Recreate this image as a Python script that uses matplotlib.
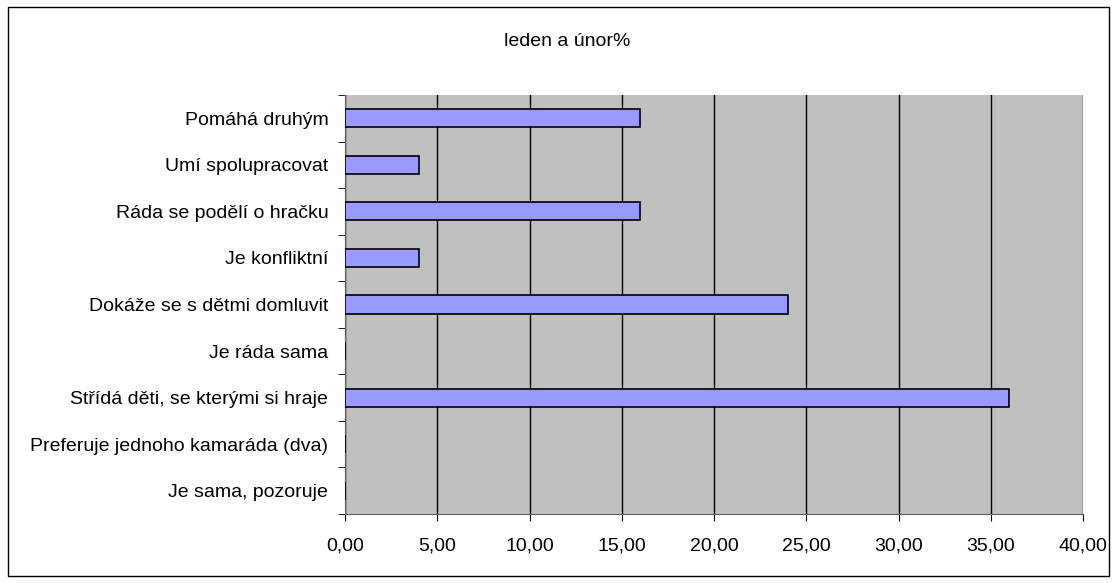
import matplotlib.pyplot as plt
from matplotlib.patches import Rectangle
from matplotlib.ticker import FixedLocator

plt.rcParams['font.family'] = ['Liberation Sans', 'DejaVu Sans']

# Data (top to bottom as shown)
categories = ['Pomáhá druhým', 'Umí spolupracovat', 'Ráda se podělí o hračku',
              'Je konfliktní', 'Dokáže se s dětmi domluvit', 'Je ráda sama',
              'Střídá děti, se kterými si hraje', 'Preferuje jednoho kamaráda (dva)',
              'Je sama, pozoruje']
values = [16, 4, 16, 4, 24, 0, 36, 0, 0]
xticks = [0, 5, 10, 15, 20, 25, 30, 35, 40]

fig = plt.figure(figsize=(11.17, 5.83), dpi=100)
ax = fig.add_axes([0.3089, 0.1184, 0.6607, 0.7187])

n = len(categories)
ypos = list(range(n - 1, -1, -1))
ax.barh(ypos, values, height=0.39, color='#9999ff', edgecolor='black', linewidth=1.2, zorder=3)

ax.set_facecolor('#c0c0c0')
ax.set_xlim(0, 40)
ax.set_ylim(-0.5, n - 0.5)
ax.set_xticks(xticks)
ax.set_xticklabels([('%.2f' % v).replace('.', ',') for v in xticks])
ax.grid(axis='x', color='black', linewidth=1, zorder=1)

ax.set_yticks(ypos)
ax.set_yticklabels(categories)
ax.yaxis.set_minor_locator(FixedLocator([i - 0.5 for i in range(n + 1)]))
ax.tick_params(axis='y', which='major', length=0, pad=12, labelsize=14)
ax.tick_params(axis='y', which='minor', length=5, direction='out')
ax.tick_params(axis='x', length=5, direction='out', labelsize=14, pad=12)

for s in ['top', 'right']:
    ax.spines[s].set_visible(False)
ax.spines['left'].set_color('#606060')
ax.spines['bottom'].set_color('#606060')

fig.text(0.508, 0.928, 'leden a únor%', ha='center', va='center', fontsize=14)

fig.patches.append(Rectangle((0.007, 0.012), 0.986, 0.976, transform=fig.transFigure,
                             fill=False, edgecolor='black', linewidth=1))

fig.savefig('out.png', dpi=100)
